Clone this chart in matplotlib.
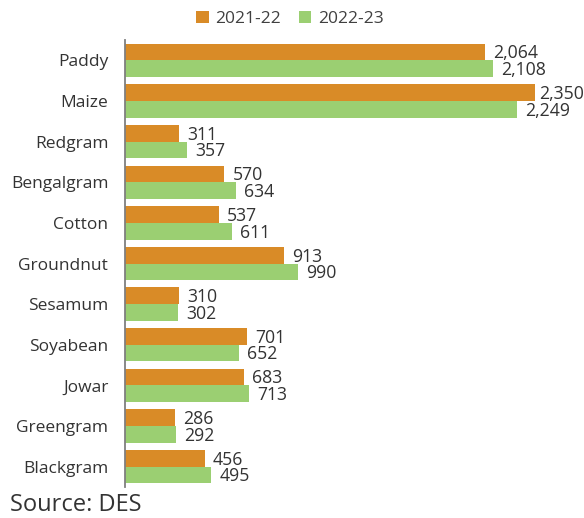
import matplotlib
matplotlib.use("Agg")
import matplotlib.pyplot as plt
import numpy as np

crops = ["Paddy", "Maize", "Redgram", "Bengalgram", "Cotton", "Groundnut",
         "Sesamum", "Soyabean", "Jowar", "Greengram", "Blackgram"]
y2021 = [2064, 2350, 311, 570, 537, 913, 310, 701, 683, 286, 456]
y2022 = [2108, 2249, 357, 634, 611, 990, 302, 652, 713, 292, 495]
series_names = ["2021-22", "2022-23"]

c_orange = "#D98B27"
c_green = "#9BCF72"
txt = "#333333"

plt.rcParams["font.family"] = ["Open Sans", "DejaVu Sans"]

fig = plt.figure(figsize=(5.84, 5.18), dpi=100)
ax = fig.add_axes([125 / 584, 1 - 487 / 518, 450 / 584, (487 - 40) / 518])

y = np.arange(len(crops))
h = 0.41
b1 = ax.barh(y - h / 2, y2021, height=h, color=c_orange, label=series_names[0])
b2 = ax.barh(y + h / 2, y2022, height=h, color=c_green, label=series_names[1])

labels = []
for bars, vals in ((b1, y2021), (b2, y2022)):
    for bar, v in zip(bars, vals):
        t = ax.annotate(f"{v:,}", (bar.get_width(), bar.get_y() + bar.get_height() / 2),
                        xytext=(6, -1), textcoords="offset points", va="center", ha="left",
                        fontsize=12.7, color=txt)
        labels.append(t)

ax.set_ylim(len(crops) - 0.5, -0.5)
ax.set_xlim(0, 450 / 0.1744)
ax.set_yticks(y)
ax.set_yticklabels(crops, fontsize=12.5, color=txt)
ax.tick_params(axis="y", length=0, pad=12)
ax.set_xticks([])
for s in ("top", "right", "bottom"):
    ax.spines[s].set_visible(False)
ax.spines["left"].set_color("#7f7f7f")
ax.spines["left"].set_linewidth(1.3)

# pull value labels back inside the canvas, keeping a small gap to the bar
fig.canvas.draw()
renderer = fig.canvas.get_renderer()
fig_w = fig.bbox.width
for t in labels:
    ext = t.get_window_extent(renderer)
    overflow = ext.x1 - fig_w
    if overflow > 0:
        dx, dy = t.xyann
        t.xyann = (max(dx - overflow * 72 / fig.dpi, 2.5), dy)

fig.legend(handles=[b1, b2], labels=series_names, loc="center", bbox_to_anchor=(290 / 584, 1 - 19 / 518),
           ncol=2, frameon=False, fontsize=12.5, handlelength=0.7, handleheight=0.7,
           handletextpad=0.4, columnspacing=1.0, labelcolor="#404040")

fig.text(10 / 584, 1 - 505 / 518, "Source: DES", fontsize=17, color=txt, va="center", ha="left")

fig.savefig("out.png", dpi=100)
